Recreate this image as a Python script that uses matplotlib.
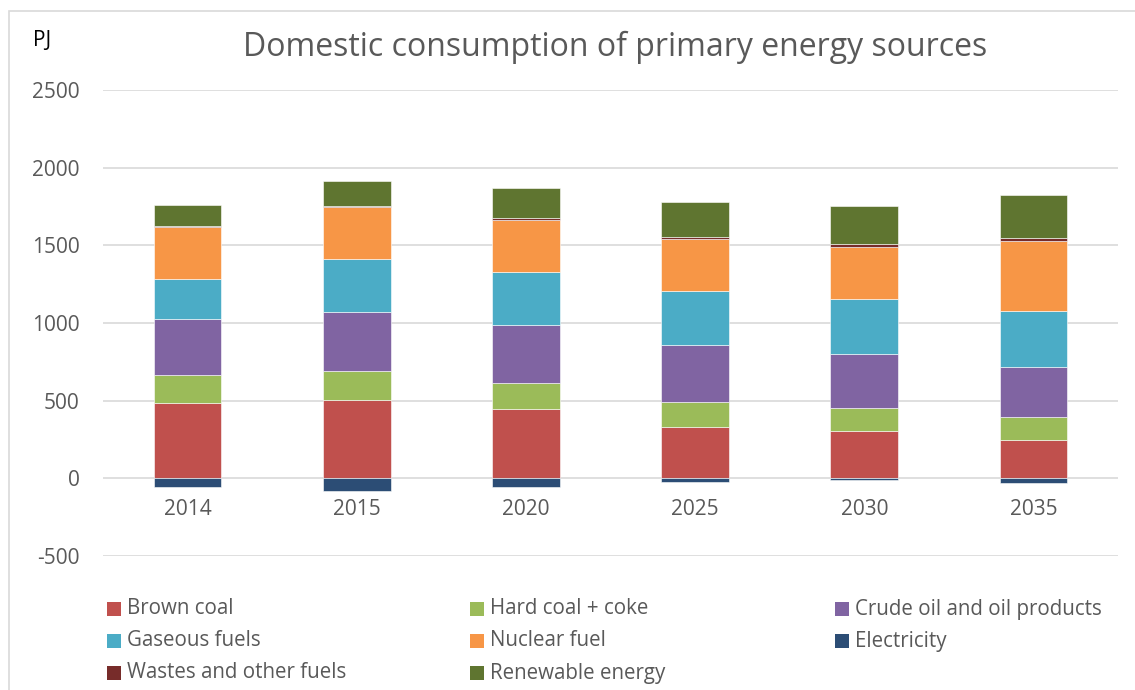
import matplotlib
matplotlib.use("Agg")
import matplotlib.pyplot as plt
from matplotlib.patches import Rectangle
import numpy as np

years = ["2014", "2015", "2020", "2025", "2030", "2035"]

brown_coal = [486, 505, 445, 328, 304, 250]
hard_coal = [178, 184, 167, 164, 146, 146]
crude_oil = [364, 384, 373, 364, 349, 323]
gaseous = [257, 340, 345, 352, 357, 360]
nuclear = [334, 334, 331, 331, 332, 450]
electricity = [-58, -79, -58, -21, -12, -30]
wastes = [8, 9, 15, 15, 21, 19]
renewable = [135, 160, 193, 225, 247, 276]

positive = [
    ("Brown coal", brown_coal, "#c0504d"),
    ("Hard coal + coke", hard_coal, "#9bbb59"),
    ("Crude oil and oil products", crude_oil, "#8064a2"),
    ("Gaseous fuels", gaseous, "#4bacc6"),
    ("Nuclear fuel", nuclear, "#f79646"),
    ("Wastes and other fuels", wastes, "#772c2a"),
    ("Renewable energy", renewable, "#5f7530"),
]
elec_color = "#2c4d75"

plt.rcParams["font.family"] = ["Open Sans", "DejaVu Sans"]
plt.rcParams["axes.unicode_minus"] = False
W, H = 1135, 690
fig = plt.figure(figsize=(W / 100, H / 100), dpi=100)

# chart frame
fig.patches.append(Rectangle((9 / W, -0.1), 1.2, (H - 11) / H + 0.1,
                             transform=fig.transFigure, fill=False,
                             edgecolor="#d9d9d9", linewidth=1.2))

ax = fig.add_axes([103 / W, (H - 556) / H, (1118 - 103) / W, (556 - 90) / H])
x = np.arange(len(years))
width = 0.4

bottom = np.zeros(len(years))
colors = {}
for name, vals, color in positive:
    vals = np.array(vals, dtype=float)
    ax.bar(x, vals, width, bottom=bottom, color=color,
           edgecolor="white", linewidth=0.4, zorder=3)
    colors[name] = color
    bottom += vals
ax.bar(x, electricity, width, color=elec_color, edgecolor="white",
       linewidth=0.4, zorder=3)
colors["Electricity"] = elec_color

ax.set_xlim(-0.5, len(years) - 0.5)
ax.set_ylim(-500, 2500)
ax.set_yticks(np.arange(-500, 2501, 500))
ax.grid(axis="y", color="#d9d9d9", linewidth=1.2, zorder=0)
for s in ax.spines.values():
    s.set_visible(False)
ax.tick_params(axis="y", length=0, labelsize=15, colors="#595959", pad=17)
ax.set_xticks([])
# year labels sit just below the zero line
for xi, yr in zip(x, years):
    ax.text(xi, -200, yr, ha="center", va="center", fontsize=15,
            color="#595959")

fig.text(615 / W, 1 - 47 / H, "Domestic consumption of primary energy sources",
         ha="center", va="center", fontsize=23, color="#595959")
fig.text(33 / W, 1 - 41 / H, "PJ", ha="left", va="center", fontsize=15,
         color="black")

# legend laid out row by row in three columns
legend_rows = [
    ["Brown coal", "Hard coal + coke", "Crude oil and oil products"],
    ["Gaseous fuels", "Nuclear fuel", "Electricity"],
    ["Wastes and other fuels", "Renewable energy"],
]
col_x = [107, 470, 835]
row_y = [609, 641, 673]
sq = 14
for r, names in enumerate(legend_rows):
    for c, name in enumerate(names):
        x0, yc = col_x[c], row_y[r]
        fig.patches.append(Rectangle((x0 / W, (H - yc - sq / 2) / H),
                                     sq / W, sq / H,
                                     transform=fig.transFigure,
                                     facecolor=colors[name], edgecolor="none"))
        fig.text((x0 + sq + 6) / W, 1 - yc / H, name, ha="left",
                 va="center", fontsize=14.8, color="#595959")

fig.savefig("out.png", dpi=100)
